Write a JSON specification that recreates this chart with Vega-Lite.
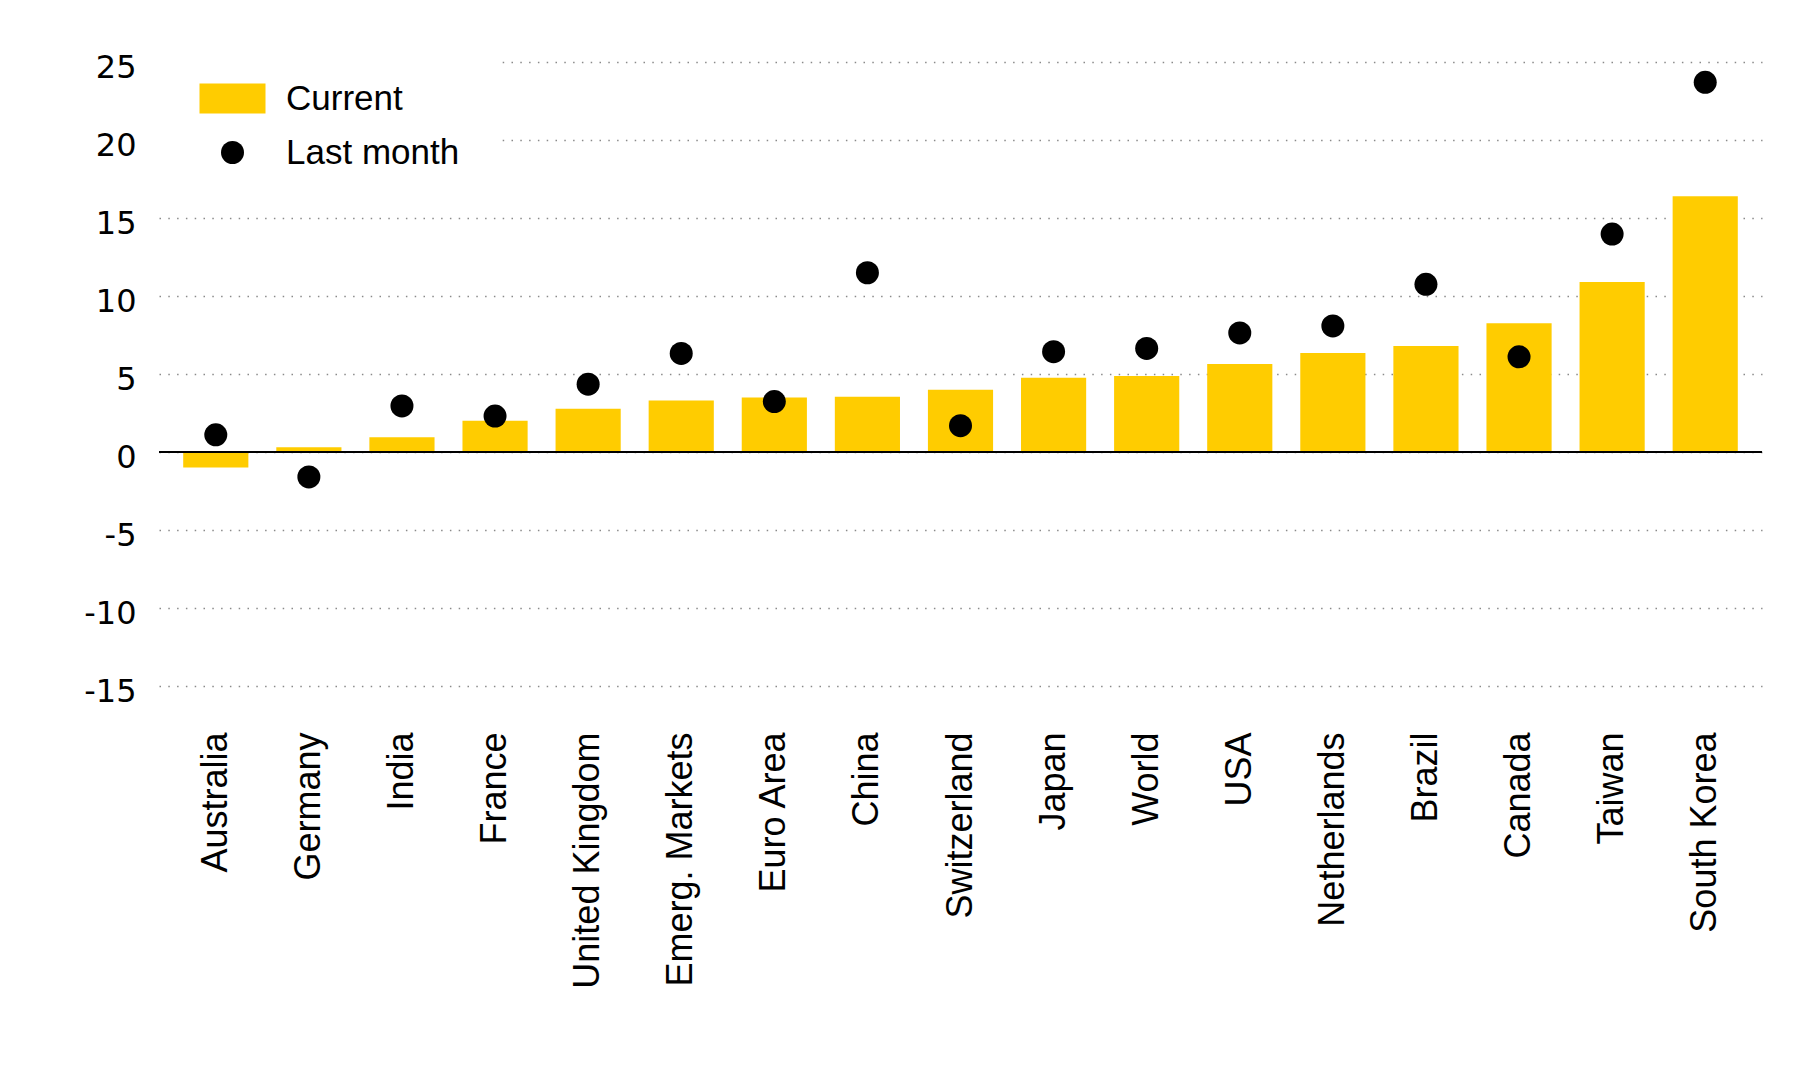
{
  "$schema": "https://vega.github.io/schema/vega-lite/v6.json",
  "width": 1603,
  "height": 624,
  "autosize": {"type": "none"},
  "padding": {"left": 159, "top": 62, "right": 38, "bottom": 394},
  "background": "white",
  "config": {
    "view": {"stroke": null},
    "font": "Liberation Sans"
  },
  "data": {
    "values": [
      {"country": "Australia", "series": "Current", "value": -1.0},
      {"country": "Germany", "series": "Current", "value": 0.3},
      {"country": "India", "series": "Current", "value": 0.95},
      {"country": "France", "series": "Current", "value": 2.0},
      {"country": "United Kingdom", "series": "Current", "value": 2.77},
      {"country": "Emerg. Markets", "series": "Current", "value": 3.3},
      {"country": "Euro Area", "series": "Current", "value": 3.49},
      {"country": "China", "series": "Current", "value": 3.54},
      {"country": "Switzerland", "series": "Current", "value": 3.99},
      {"country": "Japan", "series": "Current", "value": 4.76},
      {"country": "World", "series": "Current", "value": 4.87},
      {"country": "USA", "series": "Current", "value": 5.64},
      {"country": "Netherlands", "series": "Current", "value": 6.35},
      {"country": "Brazil", "series": "Current", "value": 6.8},
      {"country": "Canada", "series": "Current", "value": 8.26},
      {"country": "Taiwan", "series": "Current", "value": 10.9},
      {"country": "South Korea", "series": "Current", "value": 16.4},
      {"country": "Australia", "series": "Last month", "value": 1.1},
      {"country": "Germany", "series": "Last month", "value": -1.6},
      {"country": "India", "series": "Last month", "value": 2.95},
      {"country": "France", "series": "Last month", "value": 2.3},
      {"country": "United Kingdom", "series": "Last month", "value": 4.35},
      {"country": "Emerg. Markets", "series": "Last month", "value": 6.32},
      {"country": "Euro Area", "series": "Last month", "value": 3.23},
      {"country": "China", "series": "Last month", "value": 11.49},
      {"country": "Switzerland", "series": "Last month", "value": 1.69},
      {"country": "Japan", "series": "Last month", "value": 6.43},
      {"country": "World", "series": "Last month", "value": 6.64},
      {"country": "USA", "series": "Last month", "value": 7.63},
      {"country": "Netherlands", "series": "Last month", "value": 8.08},
      {"country": "Brazil", "series": "Last month", "value": 10.75},
      {"country": "Canada", "series": "Last month", "value": 6.1},
      {"country": "Taiwan", "series": "Last month", "value": 13.97},
      {"country": "South Korea", "series": "Last month", "value": 23.7}
    ]
  },
  "encoding": {
    "x": {
      "field": "country",
      "type": "nominal",
      "sort": null,
      "scale": {"paddingInner": 0.3, "paddingOuter": 0.26},
      "axis": {
        "title": null,
        "labelAngle": -90,
        "labelFontSize": 36,
        "labelFont": "Liberation Sans",
        "labelColor": "#000000",
        "labelPadding": 46,
        "ticks": false,
        "tickSize": 0,
        "domain": false,
        "grid": false,
        "labelLimit": 400
      }
    },
    "y": {
      "field": "value",
      "type": "quantitative",
      "scale": {"domain": [-15, 25], "nice": false, "zero": false},
      "axis": {
        "title": null,
        "values": [-15, -10, -5, 0, 5, 10, 15, 20, 25],
        "labelExpr": "replace(datum.label, '\u2212', '-')",
        "labelFontSize": 32,
        "labelFont": "DejaVu Sans",
        "labelColor": "#000000",
        "labelPadding": 23,
        "labelOffset": 5,
        "ticks": false,
        "tickSize": 0,
        "domain": false,
        "grid": true,
        "gridColor": "#8a8a8a",
        "gridWidth": 1.5,
        "gridDash": [1.5, 7.3]
      }
    }
  },
  "layer": [
    {
      "transform": [{"filter": "datum.series === 'Current'"}],
      "mark": {"type": "bar"},
      "encoding": {
        "color": {
          "field": "series",
          "type": "nominal",
          "scale": {"domain": ["Current", "Last month"], "range": ["#FFCC00", "#000000"]},
          "legend": {
            "title": null,
            "orient": "none",
            "legendX": -9,
            "legendY": -21,
            "fillColor": "white",
            "padding": 40,
            "symbolSize": 529,
            "symbolOffset": 25,
            "symbolStrokeWidth": 0,
            "symbolOpacity": 1,
            "labelFontSize": 35,
            "labelFont": "Liberation Sans",
            "labelColor": "#000000",
            "labelOffset": 36,
            "labelLimit": 400,
            "labelBaseline": "middle",
            "rowPadding": 18,
            "encode": {
              "symbols": {
                "update": {
                  "shape": {"signal": "datum.value === 'Current' ? 'M-2.87,-1.3H2.87V1.3H-2.87Z' : 'circle'"}
                }
              }
            }
          }
        }
      }
    },
    {
      "mark": {"type": "rule", "color": "#000000", "strokeWidth": 2},
      "encoding": {"y": {"datum": 0}, "x": null}
    },
    {
      "transform": [{"filter": "datum.series === 'Last month'"}],
      "mark": {"type": "point", "filled": true, "size": 529, "opacity": 1, "strokeWidth": 0},
      "encoding": {
        "color": {
          "field": "series",
          "type": "nominal",
          "scale": {"domain": ["Current", "Last month"], "range": ["#FFCC00", "#000000"]}
        }
      }
    }
  ]
}
